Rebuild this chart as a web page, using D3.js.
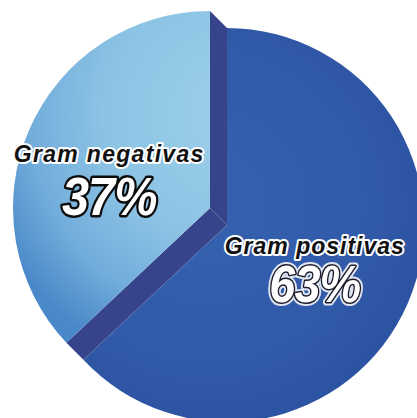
<!DOCTYPE html>
<html>
<head>
<meta charset="utf-8">
<script src="https://cdn.jsdelivr.net/npm/d3@7"></script>
<style>
  html, body { margin: 0; padding: 0; background: #fff; }
  svg { display: block; }
</style>
</head>
<body>
<div id="chart"></div>
<script>
// Share of isolates by Gram stain
const categories = ["Gram positivas", "Gram negativas"];
const values = [63, 37];
const percentLabels = ["63%", "37%"];

const width = 417, height = 418;
const radius = 197;
// front face centre of the raised slice, and the depth of the extrusion
const cx = 227, cy = 225, depth = 17;

const svg = d3.select("#chart").append("svg")
  .attr("width", width).attr("height", height);

// gradients are in each slice's local space (origin at the slice centre)
const defs = svg.append("defs");
const lightGrad = defs.append("radialGradient")
  .attr("id", "lightGrad").attr("gradientUnits", "userSpaceOnUse")
  .attr("cx", 25).attr("cy", -95).attr("r", 265);
[[0, "#9dd0ea"], [0.5, "#8cc3e4"], [0.78, "#72acdb"], [1, "#4a89c9"]]
  .forEach(([o, c]) => lightGrad.append("stop").attr("offset", o).attr("stop-color", c));

const darkGrad = defs.append("radialGradient")
  .attr("id", "darkGrad").attr("gradientUnits", "userSpaceOnUse")
  .attr("cx", -20).attr("cy", -20).attr("r", radius + 30);
[[0, "#3562b0"], [0.7, "#315aa9"], [1, "#2c53a1"]]
  .forEach(([o, c]) => darkGrad.append("stop").attr("offset", o).attr("stop-color", c));

const pie = d3.pie().sort(null).startAngle(0).endAngle(2 * Math.PI);
const arcs = pie(values);
const arc = d3.arc().innerRadius(0).outerRadius(radius);

const front = [cx, cy];
const back = [cx - depth, cy - depth];
const onRim = (c, a) => [c[0] + radius * Math.sin(a), c[1] - radius * Math.cos(a)];

// side walls of the raised slice, along its two straight edges
const raised = arcs[0];
[raised.startAngle, raised.endAngle].forEach(a => {
  svg.append("path")
    .attr("d", d3.line()([back, onRim(back, a), onRim(front, a), front]) + "Z")
    .attr("fill", "#37448c");
});

// recessed slice
svg.append("path")
  .attr("transform", `translate(${back[0]},${back[1]})`)
  .attr("d", arc(arcs[1]))
  .attr("fill", "url(#lightGrad)");

// raised slice face
svg.append("path")
  .attr("transform", `translate(${front[0]},${front[1]})`)
  .attr("d", arc(raised))
  .attr("fill", "url(#darkGrad)");

// labels
const labelArc = d3.arc().innerRadius(100).outerRadius(100);
const centres = [front, back];
const nudges = [[-4, -11, 37], [-9, -6, 47]]; // dx, name dy, percent dy
const spacing = [1.0, 1.3];
const pctSize = [52, 54];

arcs.forEach((d, i) => {
  const [lx, ly] = labelArc.centroid(d);
  const x = centres[i][0] + lx + nudges[i][0];
  const y = centres[i][1] + ly;
  const g = svg.append("g").attr("font-family", "'Liberation Sans', Arial, sans-serif")
    .attr("font-weight", "bold").attr("font-style", "italic").attr("text-anchor", "middle");

  g.append("text")
    .attr("x", x).attr("y", y + nudges[i][1])
    .attr("font-size", 23)
    .attr("letter-spacing", spacing[i])
    .attr("fill", "#111")
    .attr("stroke", "#fff").attr("stroke-width", 4).attr("stroke-linejoin", "round")
    .attr("paint-order", "stroke")
    .text(categories[i]);

  const pctPos = `translate(${x},${y + nudges[i][2]}) scale(0.9,1)`;
  if (i === 0) {
    // soft light halo under the dark outline
    g.append("text")
      .attr("transform", pctPos)
      .attr("font-size", pctSize[i]).attr("letter-spacing", -1)
      .attr("fill", "#fff").attr("stroke", "#dfe6f2").attr("stroke-width", 7)
      .attr("stroke-linejoin", "round")
      .text(percentLabels[i]);
  }
  g.append("text")
    .attr("transform", pctPos)
    .attr("font-size", pctSize[i])
    .attr("letter-spacing", -1)
    .attr("stroke-linejoin", "round")
    .attr("paint-order", "stroke")
    .attr("fill", "#fff")
    .attr("stroke", i === 0 ? "#1b1b2a" : "#0d0d0d")
    .attr("stroke-width", i === 0 ? 3 : 5)
    .text(percentLabels[i]);
});
</script>
</body>
</html>
